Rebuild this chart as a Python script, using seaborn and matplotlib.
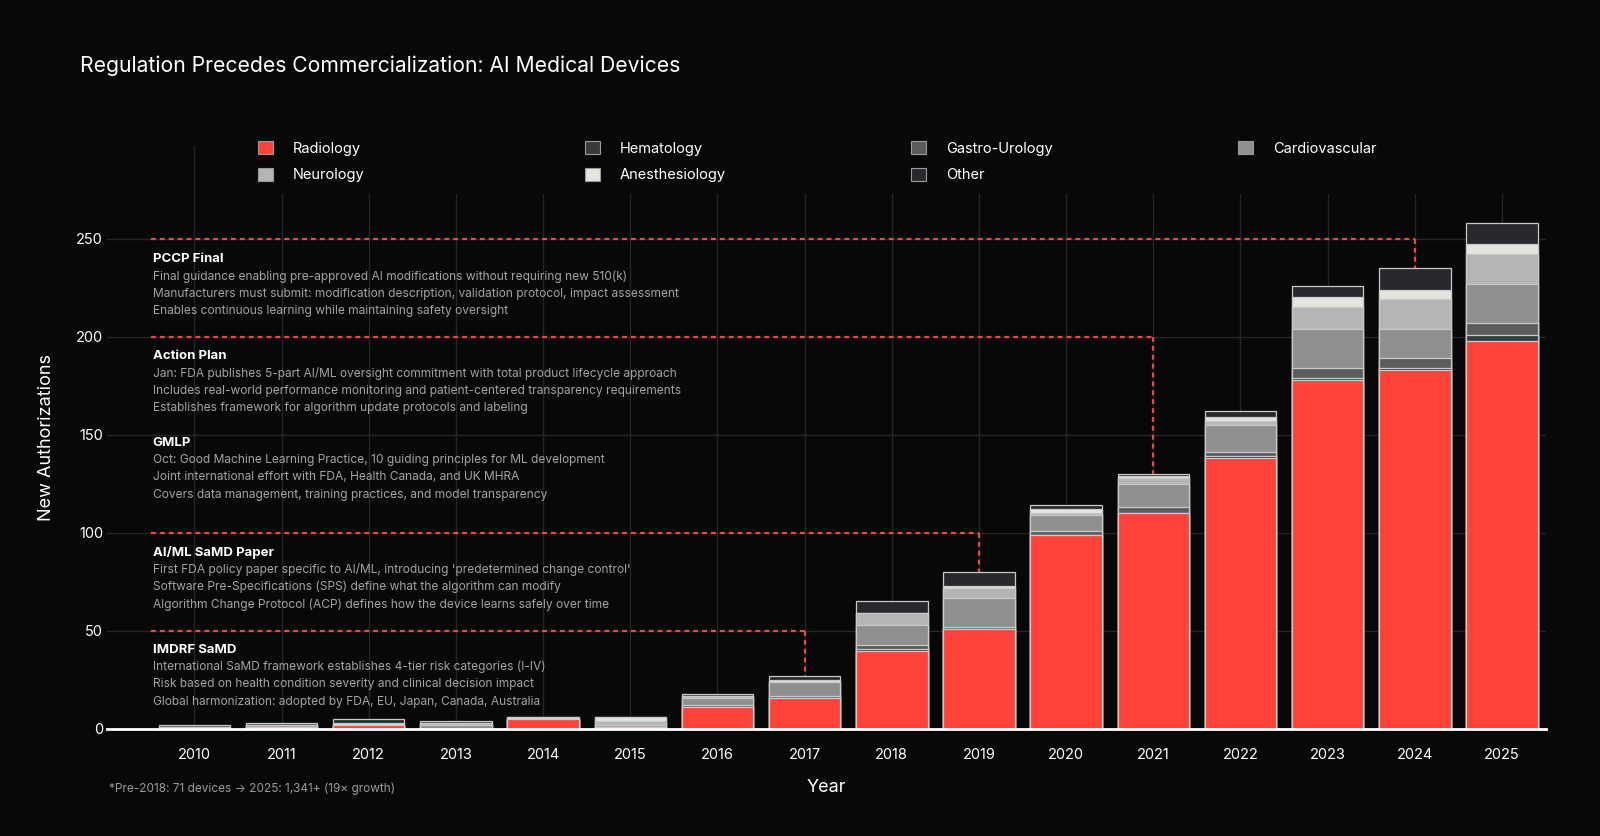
import numpy as np
import pandas as pd
import matplotlib
matplotlib.use("Agg")
import matplotlib.pyplot as plt
import seaborn as sns
from matplotlib.patches import Patch, Rectangle

# ---- data ----
years = [str(y) for y in range(2010, 2026)]
radiology      = [0, 1, 2, 0, 5, 1, 11, 16, 40, 51, 99, 110, 138, 178, 183, 198]
hematology     = [0, 0, 0, 0, 0, 0, 0, 0, 1, 0, 0, 0, 1, 1, 1, 3]
gastro_urology = [0, 0, 0, 0, 0, 0, 1, 1, 2, 1, 2, 3, 2, 5, 5, 6]
cardiovascular = [1, 1, 0, 2, 0, 1, 4, 7, 10, 15, 8, 12, 14, 20, 15, 20]
neurology      = [0, 0, 0, 1, 0, 2, 1, 0, 6, 5, 1, 3, 2, 11, 15, 15]
anesthesiology = [0, 0, 1, 0, 1, 2, 0, 1, 0, 1, 2, 1, 2, 5, 5, 5]
other          = [1, 1, 2, 1, 0, 0, 1, 2, 6, 7, 2, 1, 3, 6, 11, 11]

specialties = ["Radiology", "Hematology", "Gastro-Urology", "Cardiovascular",
               "Neurology", "Anesthesiology", "Other"]
series = [radiology, hematology, gastro_urology, cardiovascular,
          neurology, anesthesiology, other]
colors = ["#ff423a", "#3a3a3c", "#5c5c5e", "#8f8f91",
          "#b5b5b5", "#e3e5de", "#29292d"]

milestones = ["IMDRF SaMD", "AI/ML SaMD Paper", "GMLP", "Action Plan", "PCCP Final"]
milestone_year = ["2017", "2019", None, "2021", "2024"]
milestone_level = [50, 100, 150, 200, 250]
milestone_notes = [
    ["International SaMD framework establishes 4-tier risk categories (I-IV)",
     "Risk based on health condition severity and clinical decision impact",
     "Global harmonization: adopted by FDA, EU, Japan, Canada, Australia"],
    ["First FDA policy paper specific to AI/ML, introducing 'predetermined change control'",
     "Software Pre-Specifications (SPS) define what the algorithm can modify",
     "Algorithm Change Protocol (ACP) defines how the device learns safely over time"],
    ["Oct: Good Machine Learning Practice, 10 guiding principles for ML development",
     "Joint international effort with FDA, Health Canada, and UK MHRA",
     "Covers data management, training practices, and model transparency"],
    ["Jan: FDA publishes 5-part AI/ML oversight commitment with total product lifecycle approach",
     "Includes real-world performance monitoring and patient-centered transparency requirements",
     "Establishes framework for algorithm update protocols and labeling"],
    ["Final guidance enabling pre-approved AI modifications without requiring new 510(k)",
     "Manufacturers must submit: modification description, validation protocol, impact assessment",
     "Enables continuous learning while maintaining safety oversight"],
]
note_y = [40.5, 90, 146, 190, 239.5]  # header placement

# ---- style ----
bg = "#080808"
sns.set_theme(style="dark")
plt.rcParams["font.family"] = ["Inter", "DejaVu Sans"]
plt.rcParams["axes.facecolor"] = bg
plt.rcParams["figure.facecolor"] = bg

df = pd.DataFrame({"year": years})
cum = np.zeros(len(years))
for name, vals in zip(specialties, series):
    cum = cum + np.array(vals)
    df[name] = cum
totals = df["Other"].values

fig = plt.figure(figsize=(16, 8.36), dpi=100)
ax = fig.add_axes([0.067, 0.128, 0.899, 0.697])

# stacked bars: draw cumulative layers from the top down
for name, col in reversed(list(zip(specialties, colors))):
    sns.barplot(data=df, x="year", y=name, color=col, saturation=1,
                width=0.82, edgecolor="#c9c9c9", linewidth=0.9,
                errorbar=None, ax=ax, zorder=3)

ax.set_xlim(-1, 15.5)
ax.set_ylim(0, 297)
ax.set_yticks([0, 50, 100, 150, 200, 250])
ax.grid(True, color="#262626", linewidth=1)
ax.set_axisbelow(True)
for s in ["left", "top", "right"]:
    ax.spines[s].set_visible(False)
ax.spines["bottom"].set_color("white")
ax.spines["bottom"].set_linewidth(2)
ax.spines["bottom"].set_zorder(5)
ax.tick_params(axis="both", length=0, colors="white", labelsize=10.5)
ax.tick_params(axis="y", pad=3)
ax.tick_params(axis="x", pad=14)
ax.set_xlabel("Year", color="white", fontsize=13, labelpad=12)
ax.set_ylabel("New Authorizations", color="white", fontsize=13, labelpad=15)

# milestone guide lines and notes
for name, yr, lvl, notes, ty in zip(milestones, milestone_year, milestone_level,
                                    milestone_notes, note_y):
    if yr is not None:
        xi = years.index(yr)
        ax.plot([-0.5, xi], [lvl, lvl], color="#ea4a42", lw=1.6,
                dashes=(2.2, 1.8), zorder=4)
        ax.plot([xi, xi], [lvl, totals[xi]], color="#ea4a42", lw=1.6,
                dashes=(2.2, 1.8), zorder=4)
    ax.text(-0.48, ty, name, color="white", fontsize=9.5, fontweight="bold",
            va="center", ha="left", zorder=6)
    for i, line in enumerate(notes):
        ax.annotate(line, xy=(-0.48, ty), xytext=(0, -12.5 * (i + 1)),
                    textcoords="offset points", color="#a3a3a3", fontsize=8.6,
                    va="center", ha="left", zorder=6)

# legend background band (hides grid behind the legend)
fig.patches.append(Rectangle((245 / 1600, 1 - 194 / 836), 1290 / 1600, 70 / 836,
                             transform=fig.transFigure, facecolor=bg,
                             edgecolor="none", zorder=6))

# legend: four columns, filled row by row
handles = [Patch(facecolor=c, edgecolor="#9a9a9a", linewidth=0.8, label=n)
           for n, c in zip(specialties, colors)]
columns = [[0, 4], [1, 5], [2, 6], [3]]
col_x = [258, 585, 911, 1238]
for idx, cx in zip(columns, col_x):
    leg = fig.legend([handles[i] for i in idx], [specialties[i] for i in idx],
                     loc="upper left", bbox_to_anchor=(cx / 1600, 1 - 141 / 836),
                     frameon=False, fontsize=10.5, handlelength=1.0,
                     handleheight=1.0, handletextpad=1.4, labelspacing=0.85,
                     borderpad=0, borderaxespad=0)
    for t in leg.get_texts():
        t.set_color("white")
    leg.set_zorder(7)

fig.text(0.05, 1 - 66 / 836, "Regulation Precedes Commercialization: AI Medical Devices",
         color="white", fontsize=15.2, va="center", ha="left")
fig.text(0.068, 1 - 789 / 836, "*Pre-2018: 71 devices \u2192 2025: 1,341+ (19\u00d7 growth)",
         color="#9a9a9a", fontsize=8.5, va="center", ha="left")

fig.savefig("out.png", dpi=100, facecolor=bg)
